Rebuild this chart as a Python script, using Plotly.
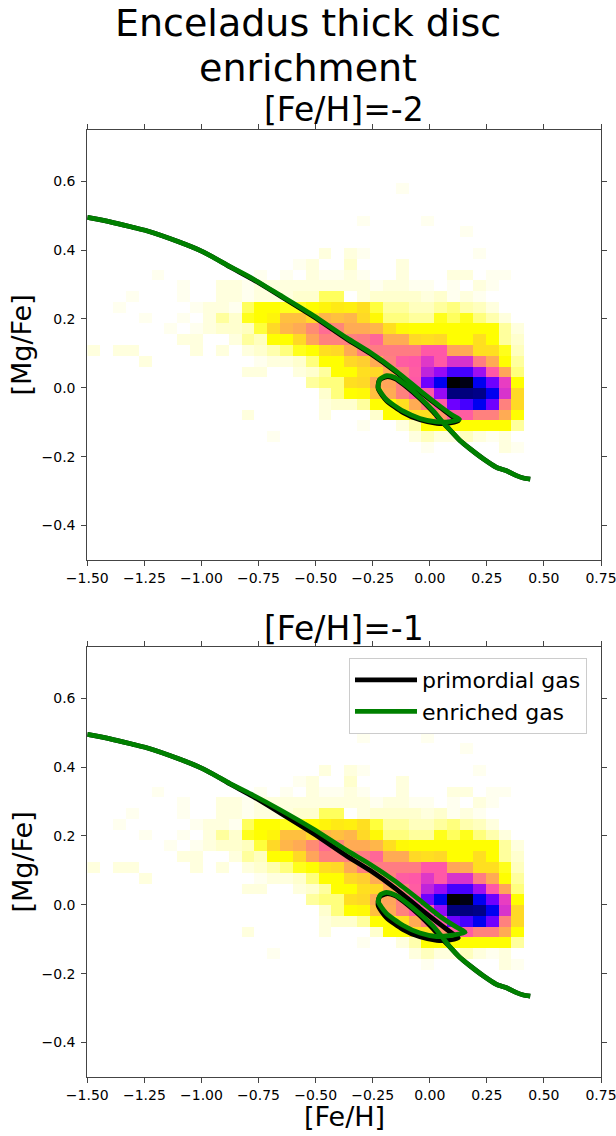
import numpy as np
import plotly.graph_objects as go

# ---------------- data ----------------
FEH_RANGE = (-1.5, 0.75)
MGFE_RANGE = (-0.5, 0.75)
N_BINS = 40
FIRST_ROW = 10  # index of the first listed [Mg/Fe] bin

# star counts per bin; rows = [Mg/Fe] bins (bottom -> top, starting at FIRST_ROW),
# columns = [Fe/H] bins 0..33 (remaining bins empty)
counts = [
    [0,0,0,0,0,0,0,0,0,0, 0,0,0,0,0,0,0,0,0,0, 0,0,0,0,0,0,1,0,0,0, 0,0,2,1],
    [0,0,0,0,0,0,0,0,0,0, 0,0,0,0,1,0,0,0,0,0, 0,0,0,0,0,2,4,2,2,4, 2,1,2,0],
    [0,0,0,0,0,0,0,0,0,0, 0,0,0,0,0,0,0,0,0,0, 0,1,0,0,2,5,16,16,16,16, 16,16,16,6],
    [0,0,0,0,0,0,0,0,0,0, 0,0,2,0,0,0,0,0,2,0, 0,0,3,16,16,28,28,56,78,78, 64,64,48,16],
    [0,0,0,0,0,0,0,0,0,0, 0,0,0,0,0,0,0,0,2,3, 3,6,16,16,28,48,64,80,120,130, 150,120,64,30],
    [0,0,0,0,0,0,0,0,0,0, 0,0,0,0,0,0,0,0,3,8, 16,18,40,48,64,78,80,110,172,172, 170,150,94,30],
    [0,0,0,0,0,0,0,0,0,0, 0,0,0,0,0,0,0,6,8,8, 28,30,48,50,64,80,120,150,196,192, 150,120,90,16],
    [0,0,0,0,0,0,0,0,0,0, 0,0,2,2,0,0,2,3,6,16, 16,28,30,48,64,78,100,110,130,130, 108,80,50,8],
    [0,0,0,0,2,0,0,0,0,0, 0,0,0,1,2,2,3,8,16,16, 30,34,48,64,78,80,92,80,94,94, 66,48,16,6],
    [2,0,2,2,0,0,0,0,2,0, 2,0,2,3,5,8,14,16,28,30, 48,64,66,66,66,66,80,80,50,48, 28,28,14,4],
    [0,0,0,0,0,0,0,2,2,0, 0,2,6,4,16,16,30,50,64,64, 64,66,74,48,48,30,28,30,16,16, 28,16,6,3],
    [0,0,0,0,0,0,1,0,1,2, 3,3,4,12,30,44,48,60,72,62, 48,48,44,28,18,16,16,16,16,16, 16,16,6,2],
    [0,0,0,0,1,0,0,1,0,2, 6,3,14,16,20,40,40,30,44,40, 44,30,18,8,8,6,6,14,10,14, 8,5,2,0],
    [0,0,1,0,0,0,0,0,1,2, 2,1,10,16,16,14,14,16,20,24, 22,28,12,6,6,4,4,6,8,5, 4,2,0,0],
    [0,0,0,1,0,0,0,1,0,0, 2,2,1,2,2,2,3,3,10,10, 0,2,3,3,3,3,2,3,1,2, 1,0,0,0],
    [0,0,0,0,0,0,0,1,0,0, 2,2,1,2,2,2,2,2,2,2, 2,2,1,2,2,1,1,0,1,0, 2,1,0,0],
    [0,0,0,0,0,1,0,0,0,0, 0,0,0,1,0,1,0,2,1,1, 2,1,0,0,2,0,0,0,2,2, 0,1,1,0],
    [0,0,0,0,0,0,0,0,0,0, 0,0,0,0,0,0,1,2,0,0, 3,0,0,0,2,0,0,0,0,0, 0,0,0,0],
    [0,0,0,0,0,0,0,0,0,0, 0,0,0,0,0,0,0,0,2,0, 2,1,0,0,0,0,0,0,0,0, 1,0,0,0],
    [0,0,0,0,0,0,0,0,0,0, 0,0,0,0,0,0,0,0,0,0, 0,0,0,0,0,0,0,0,0,0, 0,0,0,0],
    [0,0,0,0,0,0,0,0,0,0, 0,0,0,0,0,0,0,0,0,0, 0,0,0,0,0,0,0,0,0,1, 0,0,0,0],
    [0,0,0,0,0,0,0,0,0,0, 0,0,0,0,0,0,0,0,0,0, 0,1,0,0,0,0,1,0,0,0, 0,0,0,0],
    [0,0,0,0,0,0,0,0,0,0, 0,0,0,0,0,0,0,0,0,0, 0,0,0,0,0,0,0,0,0,0, 0,0,0,0],
    [0,0,0,0,0,0,0,0,0,0, 0,0,0,0,0,0,0,0,0,0, 0,0,0,0,0,0,0,0,0,0, 0,0,0,0],
    [0,0,0,0,0,0,0,0,0,0, 0,0,0,0,0,0,0,0,0,0, 0,0,0,0,1,0,0,0,0,0, 0,0,0,0],
]

# primordial-gas track (same in both panels)
prim_feh = [-1.5, -1.4, -1.3, -1.24, -1.1, -1.0, -0.948, -0.875, -0.773, -0.656, -0.51, -0.364,
            -0.262, -0.15, -0.043, 0.05, 0.10, 0.125,
            0.09, 0.03, -0.043, -0.116, -0.19, -0.226, -0.221, -0.19, -0.153, -0.102, -0.043, 0.015, 0.052,
            0.088, 0.132, 0.176, 0.234, 0.292, 0.336, 0.38, 0.41, 0.44]
prim_mgfe = [0.495, 0.482, 0.466, 0.456, 0.424, 0.397, 0.379, 0.351, 0.314, 0.267, 0.207, 0.142,
             0.100, 0.047, -0.011, -0.059, -0.084, -0.096,
             -0.102, -0.103, -0.093, -0.072, -0.037, -0.002, 0.022, 0.032, 0.027, 0.003, -0.031, -0.070, -0.098,
             -0.122, -0.153, -0.177, -0.206, -0.231, -0.241, -0.255, -0.262, -0.265]

# enriched-gas track, [Fe/H]=-2 infall
enr2_feh = [-1.5, -1.4, -1.3, -1.24, -1.1, -1.0, -0.948, -0.875, -0.773, -0.656, -0.51, -0.364,
            -0.262, -0.15, -0.043, 0.05, 0.10, 0.13,
            0.09, 0.03, -0.043, -0.116, -0.19, -0.226, -0.218, -0.189, -0.153, -0.102, -0.043, 0.015, 0.052,
            0.088, 0.132, 0.176, 0.234, 0.292, 0.336, 0.38, 0.41, 0.44]
enr2_mgfe = [0.495, 0.482, 0.466, 0.456, 0.424, 0.397, 0.379, 0.352, 0.316, 0.269, 0.210, 0.145,
             0.103, 0.050, -0.008, -0.056, -0.080, -0.091,
             -0.098, -0.099, -0.089, -0.068, -0.034, 0.001, 0.025, 0.035, 0.030, 0.006, -0.028, -0.067, -0.096,
             -0.122, -0.153, -0.177, -0.206, -0.231, -0.241, -0.255, -0.262, -0.265]

# enriched-gas track, [Fe/H]=-1 infall
enr1_feh = [-1.5, -1.4, -1.3, -1.24, -1.1, -1.0, -0.948, -0.875, -0.773, -0.656, -0.51, -0.364,
            -0.262, -0.15, -0.043, 0.05, 0.11, 0.155,
            0.10, 0.03, -0.043, -0.116, -0.19, -0.226, -0.215, -0.19, -0.15, -0.10, -0.044, 0.015, 0.05,
            0.088, 0.132, 0.176, 0.234, 0.292, 0.336, 0.38, 0.41, 0.44]
enr1_mgfe = [0.495, 0.482, 0.466, 0.456, 0.424, 0.397, 0.379, 0.352, 0.318, 0.276, 0.220, 0.158,
             0.118, 0.068, 0.013, -0.036, -0.062, -0.080,
             -0.088, -0.092, -0.082, -0.060, -0.025, 0.010, 0.030, 0.036, 0.028, 0.005, -0.026, -0.062, -0.090,
             -0.122, -0.153, -0.177, -0.206, -0.231, -0.241, -0.255, -0.262, -0.265]

x_ticks = [-1.5, -1.25, -1.0, -0.75, -0.5, -0.25, 0.0, 0.25, 0.5, 0.75]
y_ticks = [-0.4, -0.2, 0.0, 0.2, 0.4, 0.6]
panel_titles = ["[Fe/H]=-2", "[Fe/H]=-1"]
suptitle_lines = ["Enceladus thick disc", "enrichment"]
legend_names = ["primordial gas", "enriched gas"]

# ---------------- build ----------------
W, H = 616, 1136
FONT = "DejaVu Sans"

x_edges = np.linspace(FEH_RANGE[0], FEH_RANGE[1], N_BINS + 1)
y_edges = np.linspace(MGFE_RANGE[0], MGFE_RANGE[1], N_BINS + 1)
Z = [[None] * N_BINS for _ in range(N_BINS)]
for r, row in enumerate(counts):
    for c, v in enumerate(row):
        if v > 0:
            Z[FIRST_ROW + r][c] = v
zmax = max(max(r) for r in counts)


def gnuplot2(x):
    r = min(max(x / 0.32 - 0.78125, 0), 1)
    g = min(max(2 * x - 0.84, 0), 1)
    if x < 0.25:
        b = 4 * x
    elif x < 0.92:
        b = -2 * x + 1.84
    else:
        b = x / 0.08 - 11.5
    b = min(max(b, 0), 1)
    return "rgb(%d,%d,%d)" % (round(r * 255), round(g * 255), round(b * 255))


stops = np.linspace(0, 1, 101)
cscale = [[float(t), gnuplot2(1 - t)] for t in stops]

# pixel geometry -> paper domains
X0, X1 = 87.3, 601.0
panels_px = [(129.5, 560.0), (646.5, 1077.0)]
xdom = [X0 / W, X1 / W]
ydoms = [[1 - b / H, 1 - t / H] for (t, b) in panels_px]

LINE_W = 4.8
fig = go.Figure()
tracks = [(enr2_feh, enr2_mgfe), (enr1_feh, enr1_mgfe)]
for p in range(2):
    xa = "x" if p == 0 else "x2"
    ya = "y" if p == 0 else "y2"
    fig.add_trace(go.Heatmap(x=x_edges, y=y_edges, z=Z, colorscale=cscale, zmin=0, zmax=zmax,
                             showscale=False, hoverinfo="skip", xaxis=xa, yaxis=ya))
    fig.add_trace(go.Scatter(x=prim_feh, y=prim_mgfe, mode="lines", name=legend_names[0],
                             line=dict(color="black", width=LINE_W, shape="spline", smoothing=0.6),
                             showlegend=(p == 1), xaxis=xa, yaxis=ya))
    fig.add_trace(go.Scatter(x=tracks[p][0], y=tracks[p][1], mode="lines", name=legend_names[1],
                             line=dict(color="green", width=LINE_W, shape="spline", smoothing=0.6),
                             showlegend=(p == 1), xaxis=xa, yaxis=ya))

axis_common = dict(showgrid=False, zeroline=False, showline=True, linecolor="#444", linewidth=1,
                   mirror="ticks", ticks="outside", ticklen=5, tickwidth=1, tickcolor="#444",
                   tickfont=dict(family=FONT, size=14, color="black"), automargin=False,
                   ticklabeloverflow="allow")

layout = dict(width=W, height=H, margin=dict(l=0, r=0, t=0, b=0), autosize=False,
              plot_bgcolor="white", paper_bgcolor="white",
              font=dict(family=FONT, color="black"))
for p in range(2):
    sx = "" if p == 0 else "2"
    layout["xaxis" + sx] = dict(axis_common, domain=xdom, range=list(FEH_RANGE), tickvals=x_ticks,
                                tickformat=".2f", anchor="y" + sx, ticklabelstandoff=0)
    layout["yaxis" + sx] = dict(axis_common, domain=ydoms[p], range=list(MGFE_RANGE), tickvals=y_ticks,
                                tickformat=".1f", anchor="x" + sx, ticklabelstandoff=3)
fig.update_layout(**layout)

xc = (X0 + X1) / 2 / W
ann = []
ann.append(dict(text=suptitle_lines[0], x=0.5, y=1 - 23 / H, xref="paper", yref="paper",
                showarrow=False, font=dict(family=FONT, size=38), xanchor="center", yanchor="middle"))
ann.append(dict(text=suptitle_lines[1], x=0.5, y=1 - 68.5 / H, xref="paper", yref="paper",
                showarrow=False, font=dict(family=FONT, size=38), xanchor="center", yanchor="middle"))
for p, ty in enumerate([109, 628]):
    ann.append(dict(text=panel_titles[p], x=xc, y=1 - ty / H, xref="paper", yref="paper",
                    showarrow=False, font=dict(family=FONT, size=33), xanchor="center", yanchor="middle"))
for p, ty in enumerate([345, 862]):
    ann.append(dict(text="[Mg/Fe]", x=21.5 / W, y=1 - ty / H, xref="paper", yref="paper",
                    showarrow=False, textangle=-90, font=dict(family=FONT, size=27),
                    xanchor="center", yanchor="middle"))
ann.append(dict(text="[Fe/H]", x=xc, y=1 - 1116 / H, xref="paper", yref="paper",
                showarrow=False, font=dict(family=FONT, size=27), xanchor="center", yanchor="middle"))
fig.update_layout(annotations=ann)

fig.update_layout(legend=dict(x=587 / W, y=1 - 658 / H, xanchor="right", yanchor="top",
                              bgcolor="rgba(255,255,255,0.8)", bordercolor="#cccccc", borderwidth=1,
                              font=dict(family=FONT, size=22, color="black"), itemwidth=62,
                              tracegroupgap=0))

fig.write_html("out.html", config={"displayModeBar": False},
               post_script="document.body.style.margin='0';document.body.style.padding='0';")
